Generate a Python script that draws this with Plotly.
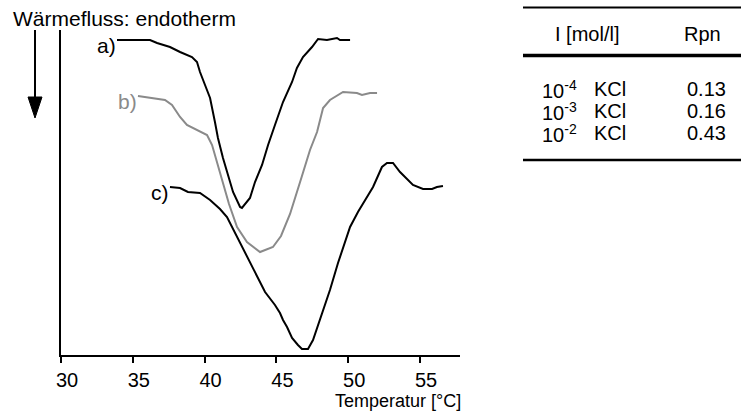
import plotly.graph_objects as go

# ---- data (temperature in °C, heat flow in arbitrary units, endotherm downward) ----
a_temp = [33.90, 36.20, 36.69, 37.59, 38.29, 39.12, 39.47, 39.68, 40.03, 40.38, 40.72, 40.93,
          41.28, 41.63, 41.98, 42.47, 42.60, 43.16, 43.51, 44.00, 44.42, 44.90, 45.46, 46.09,
          46.43, 46.85, 47.48, 47.90, 48.52, 49.22, 49.43, 50.13]
a_flow = [31.5, 31.5, 31.2, 30.8, 30.3, 29.8, 29.3, 28.3, 27.0, 25.7, 23.3, 21.7,
          19.7, 18.0, 16.3, 14.8, 14.7, 15.7, 17.3, 19.0, 21.0, 23.0, 25.3, 27.3,
          28.7, 29.8, 30.8, 31.6, 31.5, 31.7, 31.5, 31.5]

b_temp = [35.36, 36.20, 37.24, 37.73, 38.29, 38.77, 39.68, 40.17, 40.52, 40.93, 41.28, 41.70,
          42.26, 42.95, 43.86, 44.76, 45.32, 45.95, 46.78, 47.34, 47.83, 48.25, 48.73, 49.64,
          50.61, 50.96, 51.52, 52.01]
b_flow = [25.9, 25.7, 25.5, 25.0, 23.8, 23.0, 22.3, 22.0, 21.0, 19.0, 17.3, 15.1,
          12.8, 11.3, 10.3, 10.8, 11.9, 14.1, 17.9, 20.5, 22.3, 24.7, 25.5, 26.3,
          26.2, 26.0, 26.2, 26.2]

c_temp = [37.59, 38.29, 38.84, 39.68, 40.38, 41.07, 41.56, 42.26, 42.95, 43.65, 44.21, 44.90,
          45.25, 45.46, 45.74, 46.09, 46.30, 46.50, 46.78, 47.20, 47.55, 48.04, 48.73, 49.29,
          49.78, 50.13, 50.68, 51.31, 51.73, 52.35, 52.70, 53.12, 53.61, 54.51, 55.21, 55.84,
          56.18, 56.60]
c_flow = [16.8, 16.7, 16.3, 16.2, 15.5, 14.6, 13.8, 11.8, 9.8, 7.8, 6.3, 5.0,
          4.2, 3.5, 2.8, 1.7, 1.3, 1.0, 0.6, 0.6, 1.5, 3.5, 6.5, 9.2,
          11.2, 12.8, 14.3, 15.8, 16.8, 18.8, 19.2, 19.2, 18.3, 17.0, 16.6, 16.6,
          16.8, 16.9]

curve_labels = ["a)", "b)", "c)"]
x_ticks = [30, 35, 40, 45, 50, 55]

table_header = ["I [mol/l]", "Rpn"]
table_conc = ["10<sup>-4</sup>", "10<sup>-3</sup>", "10<sup>-2</sup>"]
table_salt = ["KCl", "KCl", "KCl"]
table_rpn = ["0.13", "0.16", "0.43"]

# ---- layout geometry (pixels) ----
W, H = 741, 412
L, R, T, B = 61, 460, 30, 355
FONT = "Liberation Sans, Arial, sans-serif"


def px(xp):
    return (xp - L) / (R - L)


def py(yp):
    return (B - yp) / (B - T)


BLACK = "#000000"
GRAY = "#8a8a8a"

fig = go.Figure()
for xs, ys, col in [(a_temp, a_flow, BLACK), (b_temp, b_flow, GRAY), (c_temp, c_flow, BLACK)]:
    fig.add_trace(go.Scatter(x=xs, y=ys, mode="lines", line=dict(color=col, width=2),
                             showlegend=False, hoverinfo="skip"))

annotations = []
# curve labels at the start of each curve
for lab, xs, ys, col in [(curve_labels[0], a_temp, a_flow, BLACK),
                         (curve_labels[1], b_temp, b_flow, GRAY),
                         (curve_labels[2], c_temp, c_flow, BLACK)]:
    annotations.append(dict(x=xs[0], y=ys[0], xref="x", yref="y", text=lab, showarrow=False,
                            xanchor="right", yanchor="middle", yshift=-5, xshift=1,
                            font=dict(family=FONT, size=21, color=col)))

# y-axis title
annotations.append(dict(x=px(11), y=py(19), xref="paper", yref="paper",
                        text="Wärmefluss: endotherm", showarrow=False,
                        xanchor="left", yanchor="middle",
                        font=dict(family=FONT, size=21, color=BLACK)))
# x-axis title
annotations.append(dict(x=px(463), y=py(401), xref="paper", yref="paper",
                        text="Temperatur [°C]", showarrow=False,
                        xanchor="right", yanchor="middle",
                        font=dict(family=FONT, size=18, color=BLACK)))

# table
annotations.append(dict(x=px(587), y=py(34), xref="paper", yref="paper", text=table_header[0],
                        showarrow=False, xanchor="center", yanchor="middle",
                        font=dict(family=FONT, size=20, color=BLACK)))
annotations.append(dict(x=px(702), y=py(34), xref="paper", yref="paper", text=table_header[1],
                        showarrow=False, xanchor="center", yanchor="middle",
                        font=dict(family=FONT, size=20, color=BLACK)))
row_y = [89, 111, 133]
for i in range(3):
    annotations.append(dict(x=px(540), y=py(row_y[i]), xref="paper", yref="paper",
                            text=table_conc[i], showarrow=False, xanchor="left", yanchor="middle",
                            font=dict(family=FONT, size=20, color=BLACK)))
    annotations.append(dict(x=px(592), y=py(row_y[i]), xref="paper", yref="paper",
                            text=table_salt[i], showarrow=False, xanchor="left", yanchor="middle",
                            font=dict(family=FONT, size=20, color=BLACK)))
    annotations.append(dict(x=px(728), y=py(row_y[i]), xref="paper", yref="paper",
                            text=table_rpn[i], showarrow=False, xanchor="right", yanchor="middle",
                            font=dict(family=FONT, size=20, color=BLACK)))

shapes = [
    # arrow shaft
    dict(type="line", xref="paper", yref="paper", x0=px(35), x1=px(35), y0=py(30), y1=py(100),
         line=dict(color=BLACK, width=2)),
    # arrow head
    dict(type="path", xref="paper", yref="paper",
         path=f"M {px(35)},{py(118)} L {px(28)},{py(97)} L {px(42)},{py(97)} Z",
         fillcolor=BLACK, line=dict(color=BLACK, width=1)),
    # table rules
    dict(type="line", xref="paper", yref="paper", x0=px(523), x1=px(741), y0=py(7.5), y1=py(7.5),
         line=dict(color=BLACK, width=2)),
    dict(type="line", xref="paper", yref="paper", x0=px(523), x1=px(741), y0=py(55.5), y1=py(55.5),
         line=dict(color=BLACK, width=3.5)),
    dict(type="line", xref="paper", yref="paper", x0=px(523), x1=px(741), y0=py(160), y1=py(160),
         line=dict(color=BLACK, width=2.5)),
]

fig.update_layout(
    width=W, height=H,
    margin=dict(l=L, r=W - R, t=T, b=H - B, pad=0),
    paper_bgcolor="white", plot_bgcolor="white",
    annotations=annotations, shapes=shapes,
    xaxis=dict(range=[30, 30 + (R - L) / 14.36], tickvals=x_ticks, ticktext=[str(t) for t in x_ticks],
               showline=True, linecolor=BLACK, linewidth=2, ticks="outside", ticklen=6,
               tickwidth=2, tickcolor=BLACK, showgrid=False, zeroline=False,
               ticklabelshift=6,
               tickfont=dict(family=FONT, size=20, color=BLACK)),
    yaxis=dict(range=[0, 32.5], showline=True, linecolor=BLACK, linewidth=2, ticks="",
               showticklabels=False, showgrid=False, zeroline=False),
    font=dict(family=FONT, color=BLACK),
)

fig.write_html("out.html")
